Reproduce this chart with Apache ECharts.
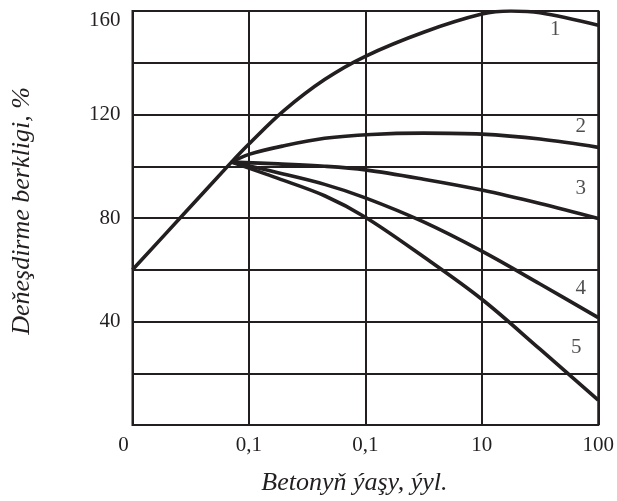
<!DOCTYPE html>
<html>
<head>
<meta charset="utf-8">
<style>
  html, body { margin: 0; padding: 0; background: #ffffff; }
  #chart { width: 617px; height: 501px; }
</style>
<script src="https://cdn.jsdelivr.net/npm/echarts@6/dist/echarts.min.js"></script>
</head>
<body>
<div id="chart"></div>
<script>
// Age of concrete: tick positions along the x axis and their printed labels
const xTickLabels = ['0', '0,1', '0,1', '10', '100'];
// Relative strength labels on the y axis (gridlines every 20)
const yTickLabels = { 160: '160', 120: '120', 80: '80', 40: '40' };

// Strength curves, [x position, strength %]
const curve1 = [[0, 60], [0.45, 82], [0.85, 101.6], [1, 108.6], [1.3, 121.5], [1.65, 133.5], [2, 142.5], [2.5, 151.8], [3, 158.8], [3.25, 160], [3.5, 159.3], [4, 154.5]];
const curve2 = [[0.85, 101.6], [1, 104.6], [1.3, 107.9], [1.65, 110.8], [2.05, 112.3], [2.5, 112.8], [3, 112.4], [3.5, 110.5], [4, 107.3]];
const curve3 = [[0.85, 101.6], [1.25, 100.9], [1.65, 100], [2, 98.6], [2.5, 95], [3, 90.8], [3.5, 85.6], [4, 79.8]];
const curve4 = [[0.85, 101.6], [1.25, 97.5], [1.65, 93], [2, 87.8], [2.5, 78.5], [3, 67.2], [3.5, 54.5], [4, 41.5]];
const curve5 = [[0.85, 101.6], [1.25, 95.3], [1.65, 88.6], [2, 80.3], [2.5, 65], [3, 48.6], [3.5, 29.3], [4, 9.6]];

// Curve numbers and where they sit on the plot
const curveNames = ['1', '2', '3', '4', '5'];
const curveNamePos = [[3.63, 152.7], [3.85, 115.5], [3.85, 91.3], [3.85, 52.9], [3.81, 30]];

const ink = '#231f20';
const serif = '"Liberation Serif", "DejaVu Serif", serif';

const chart = echarts.init(document.getElementById('chart'), null, { renderer: 'canvas' });

const curveSeries = [curve1, curve2, curve3, curve4, curve5].map(function (d) {
  return {
    type: 'line',
    data: d,
    smooth: 0.35,
    symbol: 'none',
    lineStyle: { color: ink, width: 3.6 },
    z: 3
  };
});

chart.setOption({
  animation: false,
  backgroundColor: '#ffffff',
  grid: {
    left: 132.5, right: 16.5, top: 11, bottom: 72.5,
    show: true, borderColor: ink, borderWidth: 2, backgroundColor: 'transparent'
  },
  xAxis: {
    type: 'value',
    min: 0, max: 4, interval: 1,
    axisLine: { show: false },
    axisTick: { show: false },
    splitLine: { show: true, lineStyle: { color: ink, width: 2 } },
    axisLabel: {
      margin: 10,
      fontFamily: serif, fontSize: 21, color: ink,
      formatter: function (v) {
        const s = xTickLabels[Math.round(v)];
        return v === 0 ? '{z|' + s + '}' : s;
      },
      rich: { z: { fontFamily: serif, fontSize: 21, color: ink, padding: [0, 18, 0, 0] } }
    },
    name: 'Betonyň ýaşy, ýyl.',
    nameLocation: 'middle',
    nameGap: 45,
    nameTextStyle: {
      fontFamily: serif, fontSize: 26, fontStyle: 'italic', color: ink,
      padding: [0, 22, 0, 0]
    }
  },
  yAxis: {
    type: 'value',
    min: 0, max: 160, interval: 20,
    axisLine: { show: false },
    axisTick: { show: false },
    splitLine: { show: true, lineStyle: { color: ink, width: 2 } },
    axisLabel: {
      margin: 12,
      fontFamily: serif, fontSize: 21, color: ink,
      formatter: function (v) {
        const s = yTickLabels[v] || '';
        return v === 160 ? '{t|' + s + '}' : s;
      },
      rich: { t: { fontFamily: serif, fontSize: 21, color: ink, padding: [18, 0, 0, 0] } }
    },
    name: 'Deňeşdirme berkligi, %',
    nameLocation: 'middle',
    nameGap: 97,
    nameRotate: 90,
    nameTextStyle: {
      fontFamily: serif, fontSize: 26, fontStyle: 'italic', color: ink,
      padding: [0, 0, 0, 14]
    }
  },
  series: curveSeries.concat([{
    type: 'scatter',
    data: curveNamePos.map(function (p, i) { return { value: p, name: curveNames[i] }; }),
    symbolSize: 1,
    itemStyle: { color: 'transparent' },
    label: {
      show: true, position: 'inside',
      formatter: function (p) { return p.name; },
      fontFamily: serif, fontSize: 21, color: ink
    },
    z: 4
  }])
});
</script>
</body>
</html>
